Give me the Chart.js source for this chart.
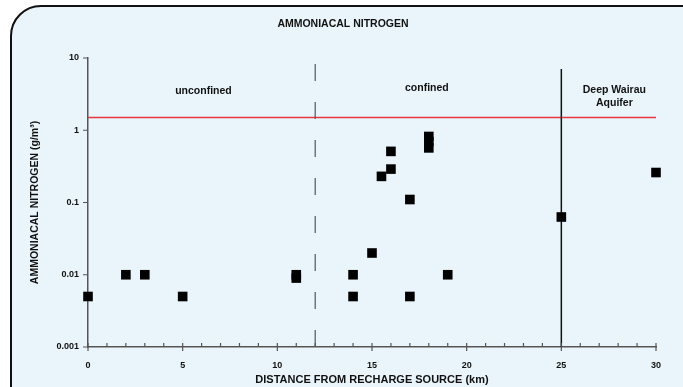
<!DOCTYPE html>
<html>
<head>
<meta charset="utf-8">
<title>Ammoniacal nitrogen</title>
<script src="https://cdn.jsdelivr.net/npm/chart.js@4/dist/chart.umd.min.js"></script>
<style>
  html, body { margin: 0; padding: 0; background: #fff; }
  #wrap { width: 683px; height: 387px; position: relative; }
</style>
</head>
<body>
<div id="wrap"><canvas id="nitrogenChart"></canvas></div>
<script>
// distance from recharge source (km) and ammoniacal nitrogen (g/m3)
const distances = [0, 2, 3, 5, 11, 11, 14, 14, 15, 15.5, 16, 16, 17, 17, 18, 18, 18, 19, 25, 30];
const nitrogen  = [0.005, 0.01, 0.01, 0.005, 0.01, 0.009, 0.01, 0.005, 0.02, 0.23, 0.29, 0.51, 0.11, 0.005, 0.82, 0.7, 0.57, 0.01, 0.063, 0.26];

const yTicks = [0.001, 0.01, 0.1, 1, 10];
const xMinorTicks = [0, 1, 2, 3, 4, 5, 6, 7, 8, 9, 10, 11, 12, 13, 14, 15, 16, 17, 18, 19, 20, 21, 22, 23, 24, 25, 26, 27, 28, 29, 30];

const guideline = 1.5;        // red limit line
const confinedBoundary = 12;  // dashed
const deepAquiferBoundary = 25;

const regionLabels = [
    { x: 6.1, y: 3.5, lines: ['unconfined'] },
    { x: 17.9, y: 3.8, lines: ['confined'] },
    { x: 27.8, y: 3.6, lines: ['Deep Wairau', 'Aquifer'] }
];

const FONT = "'Liberation Sans', Arial, sans-serif";

// rounded panel behind everything
const panelPlugin = {
    id: 'panel',
    beforeDraw(chart) {
        const ctx = chart.ctx;
        const x = 11, y = 6, w = 700, h = 410, r = 30;
        ctx.save();
        ctx.beginPath();
        ctx.moveTo(x + r, y);
        ctx.lineTo(x + w - r, y);
        ctx.arcTo(x + w, y, x + w, y + r, r);
        ctx.lineTo(x + w, y + h);
        ctx.lineTo(x, y + h);
        ctx.lineTo(x, y + r);
        ctx.arcTo(x, y, x + r, y, r);
        ctx.closePath();
        ctx.fillStyle = '#e9f5fa';
        ctx.fill();
        ctx.lineWidth = 2;
        ctx.strokeStyle = '#111';
        ctx.stroke();

        ctx.fillStyle = '#111';
        ctx.font = 'bold 10.5px ' + FONT;
        ctx.textAlign = 'center';
        ctx.textBaseline = 'middle';
        ctx.fillText('AMMONIACAL NITROGEN', 343, 24);
        ctx.restore();
    }
};

// boundary lines, limit line, region names and axis tick marks
const overlayPlugin = {
    id: 'overlay',
    beforeDatasetsDraw(chart) {
        const ctx = chart.ctx;
        const xs = chart.scales.x, ys = chart.scales.y;
        const area = chart.chartArea;
        ctx.save();

        // red guideline
        const gy = ys.getPixelForValue(guideline);
        ctx.strokeStyle = '#e8383e';
        ctx.lineWidth = 1.5;
        ctx.beginPath();
        ctx.moveTo(xs.getPixelForValue(0), gy);
        ctx.lineTo(xs.getPixelForValue(30), gy);
        ctx.stroke();

        // dashed unconfined/confined boundary
        const dx = xs.getPixelForValue(confinedBoundary);
        ctx.strokeStyle = '#555';
        ctx.lineWidth = 1.2;
        ctx.setLineDash([17, 21]);
        ctx.beginPath();
        ctx.moveTo(dx, area.top + 6);
        ctx.lineTo(dx, area.bottom);
        ctx.stroke();
        ctx.setLineDash([]);

        // deep aquifer boundary
        const sx = xs.getPixelForValue(deepAquiferBoundary);
        ctx.strokeStyle = '#111';
        ctx.lineWidth = 1.5;
        ctx.beginPath();
        ctx.moveTo(sx, area.top + 11);
        ctx.lineTo(sx, area.bottom);
        ctx.stroke();

        // region names
        ctx.fillStyle = '#111';
        ctx.font = 'bold 10.5px ' + FONT;
        ctx.textAlign = 'center';
        ctx.textBaseline = 'middle';
        regionLabels.forEach(l => {
            const px = xs.getPixelForValue(l.x);
            const py = ys.getPixelForValue(l.y);
            l.lines.forEach((t, i) => ctx.fillText(t, px, py + i * 13));
        });

        // axis tick marks
        ctx.strokeStyle = '#555';
        ctx.lineWidth = 1.2;
        ctx.beginPath();
        xMinorTicks.forEach(v => {
            const px = xs.getPixelForValue(v);
            const major = v % 5 === 0;
            ctx.moveTo(px, area.bottom - 4);
            ctx.lineTo(px, area.bottom + (major ? 4 : 0));
        });
        yTicks.forEach(v => {
            const py = ys.getPixelForValue(v);
            ctx.moveTo(area.left - 5, py);
            ctx.lineTo(area.left, py);
        });
        ctx.stroke();
        ctx.restore();
    }
};

new Chart(document.getElementById('nitrogenChart'), {
    type: 'scatter',
    data: {
        datasets: [{
            label: 'Ammoniacal nitrogen',
            data: distances.map((d, i) => ({ x: d, y: nitrogen[i] })),
            pointStyle: 'rect',
            pointRadius: 6.8,
            pointHoverRadius: 6.8,
            backgroundColor: '#000',
            borderColor: '#000',
            borderWidth: 0,
            clip: false
        }]
    },
    options: {
        responsive: true,
        maintainAspectRatio: false,
        animation: false,
        layout: { padding: { left: 0, top: 58, right: 27, bottom: 0 } },
        plugins: {
            legend: { display: false },
            tooltip: { enabled: false }
        },
        scales: {
            x: {
                type: 'linear',
                min: 0,
                max: 30,
                afterFit: s => { s.height = 40; },
                grid: { display: false, drawTicks: false },
                border: { display: true, color: '#555', width: 1.5 },
                ticks: {
                    stepSize: 5,
                    padding: 13,
                    color: '#111',
                    font: { family: FONT, size: 9, weight: 'bold' }
                },
                title: {
                    display: true,
                    text: 'DISTANCE FROM RECHARGE SOURCE (km)',
                    color: '#111',
                    padding: { top: 0, bottom: 0 },
                    font: { family: FONT, size: 11, weight: 'bold' }
                }
            },
            y: {
                type: 'logarithmic',
                min: 0.001,
                max: 10,
                afterFit: s => { s.width = 88; },
                afterBuildTicks: s => { s.ticks = yTicks.map(v => ({ value: v })); },
                grid: { display: false, drawTicks: false },
                border: { display: true, color: '#555', width: 1.5 },
                ticks: {
                    padding: 9,
                    color: '#111',
                    font: { family: FONT, size: 9, weight: 'bold' },
                    callback: v => String(v)
                },
                title: {
                    display: true,
                    text: 'AMMONIACAL NITROGEN (g/m³)',
                    color: '#111',
                    padding: { top: 29, bottom: 0 },
                    font: { family: FONT, size: 10.5, weight: 'bold' }
                }
            }
        }
    },
    plugins: [panelPlugin, overlayPlugin]
});
</script>
</body>
</html>
